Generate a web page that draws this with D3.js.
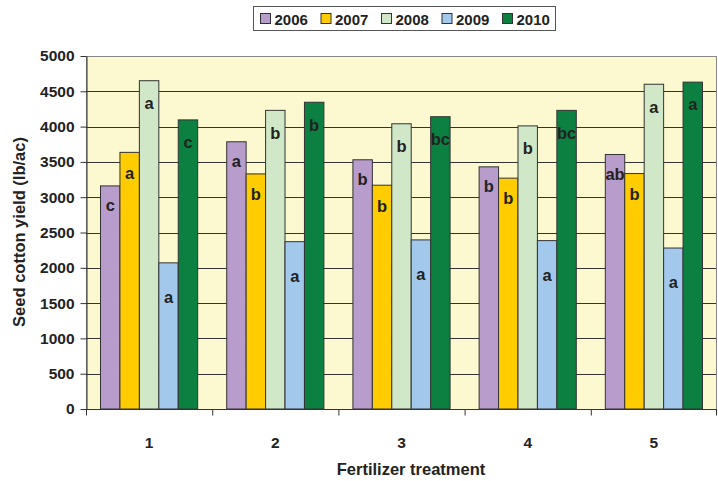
<!DOCTYPE html>
<html>
<head>
<meta charset="utf-8">
<script src="https://cdn.jsdelivr.net/npm/d3@7"></script>
<style>
  body { margin: 0; background: #fff; }
  text { font-family: "Liberation Sans", Arial, sans-serif; font-weight: bold; fill: #222; }
</style>
</head>
<body>
<div id="chart"></div>
<script>
// data
const treatments = ['1', '2', '3', '4', '5'];
const years = ['2006', '2007', '2008', '2009', '2010'];
const yield2006 = [3160, 3785, 3530, 3430, 3605];
const yield2007 = [3635, 3330, 3170, 3270, 3335];
const yield2008 = [4650, 4230, 4040, 4010, 4600];
const yield2009 = [2070, 2370, 2395, 2385, 2280];
const yield2010 = [4095, 4345, 4140, 4230, 4630];
const letters2006 = ['c', 'a', 'b', 'b', 'ab'];
const letters2007 = ['a', 'b', 'b', 'b', 'b'];
const letters2008 = ['a', 'b', 'b', 'b', 'a'];
const letters2009 = ['a', 'a', 'a', 'a', 'a'];
const letters2010 = ['c', 'b', 'bc', 'bc', 'a'];
const yTicks = [0, 500, 1000, 1500, 2000, 2500, 3000, 3500, 4000, 4500, 5000];

const colors = ['#B89CCB', '#FFCC00', '#D0E8C8', '#A2C8EC', '#0B8040'];
const labelDrop = [21, 22, 24, 36, 24]; // how far the letters sit below bar top

function drawChart() {
    const W = 718, H = 481;
    const margin = {top: 56, right: 1, bottom: 72, left: 86};
    const width = W - margin.left - margin.right;
    const height = H - margin.top - margin.bottom;

    const series = [yield2006, yield2007, yield2008, yield2009, yield2010];
    const letters = [letters2006, letters2007, letters2008, letters2009, letters2010];

    // flatten into one row per bar
    const bars = [];
    treatments.forEach((t, i) => {
        years.forEach((y, j) => {
            bars.push({treat: t, year: y, value: series[j][i], letter: letters[j][i], s: j});
        });
    });

    const svg = d3.select('#chart').append('svg')
        .attr('width', W).attr('height', H);
    const g = svg.append('g')
        .attr('transform', `translate(${margin.left}, ${margin.top})`);

    const x0 = d3.scaleBand().domain(treatments).range([0, width])
        .paddingInner(0.23).paddingOuter(0.115);
    const x1 = d3.scaleBand().domain(years).range([0, x0.bandwidth()]);
    const yScale = d3.scaleLinear().domain([0, 5000]).range([height, 0]);

    // plot background + border
    g.append('rect')
        .attr('x', 0.5).attr('y', 0.5)
        .attr('width', width - 1).attr('height', height)
        .attr('fill', '#FCF8D0')
        .attr('stroke', '#888');

    // gridlines
    g.append('g')
        .selectAll('line')
        .data(yTicks.filter(d => d > 0 && d < 5000))
        .join('line')
        .attr('x1', 0).attr('x2', width - 1)
        .attr('y1', d => Math.round(yScale(d)) + 0.5).attr('y2', d => Math.round(yScale(d)) + 0.5)
        .attr('stroke', '#333').attr('stroke-width', 1);

    // bars
    g.selectAll('.bar')
        .data(bars)
        .join('rect')
        .attr('class', 'bar')
        .attr('x', d => x0(d.treat) + x1(d.year))
        .attr('y', d => yScale(d.value))
        .attr('width', x1.bandwidth())
        .attr('height', d => height - yScale(d.value))
        .attr('fill', d => colors[d.s])
        .attr('stroke', '#333').attr('stroke-width', 1);

    // significance letters
    g.selectAll('.letter')
        .data(bars)
        .join('text')
        .attr('class', 'letter')
        .attr('x', d => x0(d.treat) + x1(d.year) + x1.bandwidth() / 2)
        .attr('y', d => yScale(d.value) + labelDrop[d.s])
        .attr('text-anchor', 'middle')
        .attr('dominant-baseline', 'middle')
        .style('font-size', '16.5px')
        .text(d => d.letter);

    // y axis
    const yAxis = g.append('g')
        .attr('transform', 'translate(0.5, 0)')
        .call(d3.axisLeft(yScale).tickValues(yTicks).tickFormat(d3.format('d'))
            .tickSize(6).tickPadding(6).tickSizeOuter(0));
    yAxis.selectAll('text').style('font-size', '15.5px').attr('fill', '#222');
    yAxis.selectAll('line, path').attr('stroke', '#333');

    // x axis: ticks between groups
    const step = x0.step();
    const xAxis = g.append('g').attr('transform', `translate(0, ${height + 0.5})`);
    xAxis.append('line').attr('x1', 0).attr('x2', width).attr('stroke', '#333');
    xAxis.selectAll('.xtick')
        .data(d3.range(treatments.length + 1))
        .join('line')
        .attr('x1', i => Math.min(i * step, width - 1) + 0.5).attr('x2', i => Math.min(i * step, width - 1) + 0.5)
        .attr('y1', 0).attr('y2', 6)
        .attr('stroke', '#333');
    xAxis.selectAll('.xlab')
        .data(treatments)
        .join('text')
        .attr('x', d => x0(d) + x0.bandwidth() / 2)
        .attr('y', 38)
        .attr('text-anchor', 'middle')
        .style('font-size', '15.5px')
        .text(d => d);

    // axis titles
    svg.append('text')
        .attr('transform', `translate(25, 232) rotate(-90)`)
        .attr('text-anchor', 'middle')
        .style('font-size', '16.5px')
        .text('Seed cotton yield (lb/ac)');

    svg.append('text')
        .attr('x', 411).attr('y', 475)
        .attr('text-anchor', 'middle')
        .style('font-size', '16.5px')
        .text('Fertilizer treatment');

    // legend
    const legend = svg.append('g').attr('transform', 'translate(253.5, 6.5)');
    legend.append('rect')
        .attr('width', 302).attr('height', 24)
        .attr('fill', '#fff').attr('stroke', '#555');
    const item = legend.selectAll('.item')
        .data(years)
        .join('g')
        .attr('transform', (d, i) => `translate(${7 + i * 60.5}, 0)`);
    item.append('rect')
        .attr('y', 7).attr('width', 10).attr('height', 10)
        .attr('fill', (d, i) => colors[i])
        .attr('stroke', '#333');
    item.append('text')
        .attr('x', 14).attr('y', 18)
        .style('font-size', '15px')
        .text(d => d);
}

drawChart();
</script>
</body>
</html>
